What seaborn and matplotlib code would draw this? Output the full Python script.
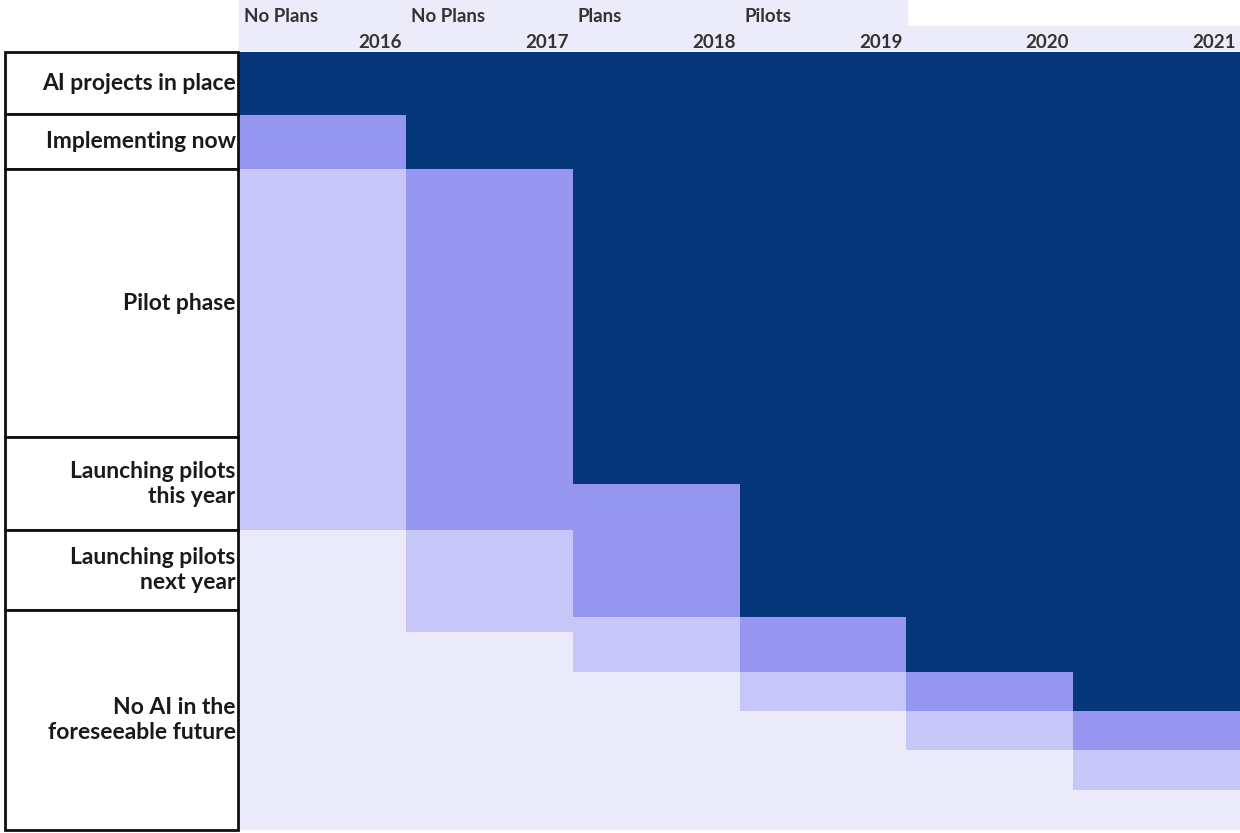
import matplotlib
matplotlib.use("Agg")
import matplotlib.pyplot as plt
from matplotlib.patches import Rectangle
import seaborn as sns
import pandas as pd
import numpy as np

# ---------------- data ----------------
years = ["2016", "2017", "2018", "2019", "2020", "2021"]
in_place = [8.1, 15.0, 55.5, 72.6, 79.7, 84.7]
pilots = [6.9, 46.5, 17.1, 7.1, 5.0, 5.0]
plans = [46.4, 13.0, 7.1, 5.0, 5.0, 5.1]
no_plans = [38.6, 25.5, 20.3, 15.3, 10.3, 5.2]

header_labels = ["No Plans", "No Plans", "Plans", "Pilots"]

row_labels = ["AI projects in place", "Implementing now", "Pilot phase",
              "Launching pilots\nthis year", "Launching pilots\nnext year",
              "No AI in the\nforeseeable future"]
row_heights = [8.0, 7.1, 34.4, 12.0, 10.2, 28.3]

# ---------------- style ----------------
sns.set_theme(style="white")
plt.rcParams["font.family"] = ["Lato", "DejaVu Sans"]

c_dark = "#06377a"
c_med = "#9696f0"
c_light = "#c6c6f8"
c_vlight = "#eaeafa"
c_band = "#ebebfa"

W, H = 1240, 833
fig = plt.figure(figsize=(W / 100, H / 100), dpi=100)


def px_rect(x0, y0, x1, y1):
    return [x0 / W, 1 - y1 / H, (x1 - x0) / W, (y1 - y0) / H]


ax = fig.add_axes(px_rect(239, 52, 1240, 830))
tax = fig.add_axes(px_rect(5, 52, 238, 830))

# cumulative heights (drawn from the tallest to the shortest, overlaid)
ip, pl, pn, npl = map(np.array, (in_place, pilots, plans, no_plans))
layers = [
    ("AI in place", ip + pl + pn + npl, c_dark),
    ("Pilots", pl + pn + npl, c_med),
    ("Plans", pn + npl, c_light),
    ("No Plans", npl, c_vlight),
]
rows = []
for name, vals, col in layers:
    for y, v in zip(years, vals):
        rows.append({"year": y, "level": name, "cum": v})
df = pd.DataFrame(rows)

for name, vals, col in layers:
    sns.barplot(data=df[df["level"] == name], x="year", y="cum", order=years,
                color=col, width=1.0, saturation=1, linewidth=0,
                errorbar=None, ax=ax, antialiased=False)

ax.set_xlim(-0.5, len(years) - 0.5)
ax.set_ylim(0, 100)
ax.set_axis_off()

# ---------------- header bands and labels ----------------
fig.patches.append(Rectangle((239 / W, 1 - 26 / H), (907 - 239) / W, 26 / H,
                             transform=fig.transFigure, color=c_band, zorder=0))
fig.patches.append(Rectangle((239 / W, 1 - 50 / H), (1240 - 239) / W, 24 / H,
                             transform=fig.transFigure, color=c_band, zorder=0))

col_w = (1240 - 239) / len(years)
for i, lab in enumerate(header_labels):
    x = 239 + i * col_w + 5
    fig.text(x / W, 1 - 16 / H, lab, ha="left", va="center", fontsize=13.5,
             fontweight="bold", color="#333333")
for i, y in enumerate(years):
    x = 239 + (i + 1) * col_w - 4
    fig.text(x / W, 1 - 42 / H, y, ha="right", va="center", fontsize=13.5,
             fontweight="bold", color="#333333")

# ---------------- left table ----------------
tax.set_xlim(0, 1)
tax.set_ylim(0, 100)
tax.set_axis_off()
top = 100.0
for lab, h in zip(row_labels, row_heights):
    bottom = top - h
    tax.add_patch(Rectangle((0, bottom), 1, h, facecolor="white",
                            edgecolor="#111111", linewidth=2.0, clip_on=False))
    tax.text(0.99, (top + bottom) / 2, lab, ha="right", va="center",
             fontsize=16.5, fontweight="bold", color="#1a1a1a",
             linespacing=1.25, multialignment="right")
    top = bottom

fig.savefig("out.png", dpi=100)
